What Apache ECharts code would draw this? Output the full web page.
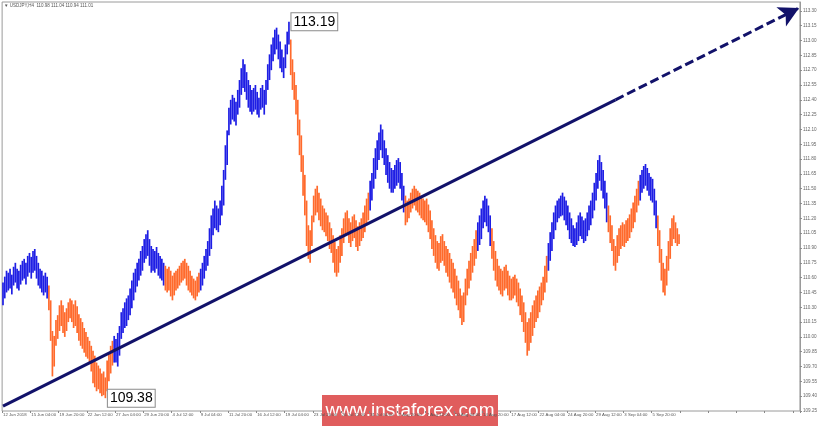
<!DOCTYPE html>
<html>
<head>
<meta charset="utf-8">
<script src="https://cdn.jsdelivr.net/npm/echarts@6/dist/echarts.min.js"></script>
<style>
html, body { margin: 0; padding: 0; background: #fff; }
#chart { width: 820px; height: 426px; }
</style>
</head>
<body>
<div id="chart"></div>
<script>
// USDJPY H4, one label every 16 bars
const tickLabels = ['12 Jun 2018', '15 Jun 04:00', '19 Jun 20:00', '22 Jun 12:00', '27 Jun 04:00', '29 Jun 20:00',
  '4 Jul 12:00', '9 Jul 04:00', '11 Jul 20:00', '16 Jul 12:00', '19 Jul 04:00', '23 Jul 20:00', '26 Jul 12:00',
  '31 Jul 04:00', '2 Aug 20:00', '7 Aug 12:00', '10 Aug 04:00', '14 Aug 20:00', '17 Aug 12:00', '22 Aug 04:00',
  '24 Aug 20:00', '29 Aug 12:00', '3 Sep 04:00', '5 Sep 20:00']

const highs = [
  110.55,110.61,110.67,110.65,110.69,110.63,110.71,110.75,110.69,110.67,110.73,110.77,110.79,110.75,110.82,110.85,
  110.81,110.87,110.89,110.82,110.75,110.69,110.67,110.62,110.65,110.61,110.52,110.37,110.06,110.01,110.17,110.22,
  110.32,110.37,110.32,110.25,110.29,110.35,110.39,110.37,110.33,110.37,110.31,110.23,110.19,110.15,110.09,110.05,
  110.00,109.96,109.91,109.86,109.81,109.74,109.71,109.68,109.63,109.65,109.59,109.76,109.84,109.91,109.96,110.01,
  109.98,110.04,110.11,110.25,110.29,110.35,110.39,110.42,110.49,110.57,110.65,110.69,110.75,110.79,110.87,110.92,
  110.99,111.04,111.08,110.99,110.92,110.89,110.87,110.91,110.85,110.82,110.79,110.75,110.72,110.69,110.71,110.67,
  110.62,110.65,110.67,110.69,110.72,110.75,110.77,110.79,110.75,110.72,110.67,110.62,110.59,110.57,110.61,110.65,
  110.69,110.75,110.82,110.89,110.97,111.10,111.23,111.30,111.38,111.33,111.30,111.38,111.53,111.69,111.94,112.09,
  112.32,112.40,112.45,112.42,112.38,112.50,112.60,112.72,112.81,112.76,112.68,112.60,112.55,112.50,112.52,112.55,
  112.48,112.42,112.52,112.55,112.50,112.60,112.76,112.86,112.96,113.03,113.11,113.13,113.06,112.99,112.91,112.83,
  112.96,113.09,113.19,113.01,112.81,112.68,112.55,112.40,112.20,112.04,111.84,111.64,111.38,111.13,111.08,111.23,
  111.43,111.50,111.53,111.46,111.40,111.33,111.30,111.26,111.23,111.16,111.10,111.03,110.96,110.89,110.92,111.03,
  111.10,111.20,111.26,111.28,111.20,111.16,111.22,111.24,111.18,111.12,111.16,111.20,111.26,111.33,111.40,111.46,
  111.58,111.66,111.81,111.91,111.99,112.07,112.15,112.10,111.99,111.91,111.84,111.77,111.71,111.69,111.74,111.79,
  111.81,111.77,111.66,111.53,111.43,111.38,111.40,111.46,111.50,111.53,111.50,111.48,111.46,111.43,111.40,111.38,
  111.40,111.34,111.28,111.18,111.10,111.03,110.97,110.95,111.02,111.04,110.97,110.92,110.89,110.85,110.79,110.75,
  110.69,110.62,110.57,110.49,110.42,110.45,110.59,110.69,110.77,110.85,110.92,110.99,111.08,111.16,111.23,111.30,
  111.38,111.43,111.40,111.33,111.23,111.10,110.97,110.87,110.79,110.72,110.69,110.67,110.71,110.73,110.67,110.62,
  110.59,110.61,110.63,110.59,110.55,110.49,110.42,110.35,110.25,110.15,110.19,110.25,110.32,110.37,110.42,110.47,
  110.51,110.55,110.61,110.72,110.82,110.95,111.06,111.16,111.26,111.33,111.38,111.40,111.43,111.46,111.42,111.38,
  111.33,111.26,111.20,111.13,111.10,111.16,111.23,111.26,111.22,111.18,111.20,111.26,111.33,111.38,111.46,111.56,
  111.66,111.79,111.84,111.77,111.69,111.58,111.46,111.33,111.23,111.13,110.99,110.92,111.03,111.10,111.13,111.16,
  111.14,111.18,111.20,111.24,111.30,111.36,111.43,111.50,111.58,111.64,111.69,111.73,111.75,111.71,111.66,111.62,
  111.60,111.50,111.38,111.23,111.08,110.89,110.75,110.69,110.82,110.97,111.10,111.20,111.23,111.16,111.10,111.04
]

const lows = [
  110.32,110.39,110.45,110.47,110.49,110.43,110.52,110.55,110.49,110.47,110.53,110.57,110.59,110.53,110.61,110.65,
  110.59,110.65,110.67,110.59,110.52,110.49,110.45,110.42,110.45,110.39,110.27,109.96,109.60,109.70,109.91,109.98,
  110.06,110.11,110.04,110.00,110.06,110.15,110.19,110.15,110.09,110.11,110.04,109.96,109.91,109.88,109.84,109.80,
  109.78,109.74,109.65,109.53,109.49,109.45,109.47,109.43,109.40,109.41,109.38,109.45,109.55,109.63,109.71,109.74,
  109.74,109.70,109.81,109.98,110.04,110.09,110.11,110.17,110.22,110.29,110.37,110.45,110.51,110.57,110.62,110.67,
  110.75,110.79,110.82,110.72,110.65,110.67,110.65,110.69,110.62,110.59,110.57,110.52,110.47,110.45,110.47,110.41,
  110.37,110.42,110.47,110.49,110.52,110.55,110.57,110.59,110.52,110.47,110.45,110.42,110.39,110.37,110.41,110.45,
  110.47,110.52,110.59,110.67,110.72,110.82,110.89,111.03,111.10,111.08,111.06,111.13,111.23,111.33,111.59,111.74,
  112.04,112.15,112.20,112.18,112.14,112.25,112.32,112.45,112.52,112.48,112.40,112.32,112.28,112.25,112.28,112.30,
  112.25,112.22,112.30,112.32,112.25,112.35,112.50,112.60,112.70,112.79,112.86,112.91,112.81,112.72,112.68,112.62,
  112.72,112.86,112.96,112.65,112.50,112.40,112.25,112.04,111.84,111.67,111.43,111.23,110.92,110.79,110.75,110.92,
  111.16,111.23,111.26,111.18,111.12,111.08,111.06,111.02,110.97,110.89,110.85,110.75,110.65,110.61,110.65,110.75,
  110.82,110.95,111.02,111.04,110.95,110.91,110.97,111.00,110.91,110.87,110.92,110.97,111.00,111.06,111.13,111.18,
  111.28,111.38,111.50,111.60,111.69,111.79,111.89,111.81,111.74,111.64,111.56,111.50,111.46,111.46,111.50,111.53,
  111.56,111.50,111.38,111.26,111.13,111.16,111.20,111.26,111.30,111.33,111.28,111.26,111.23,111.20,111.18,111.16,
  111.13,111.06,110.99,110.89,110.82,110.75,110.69,110.67,110.75,110.77,110.72,110.65,110.61,110.55,110.49,110.45,
  110.39,110.32,110.27,110.19,110.12,110.15,110.32,110.42,110.49,110.57,110.65,110.72,110.79,110.87,110.93,110.99,
  111.10,111.16,111.12,111.06,110.92,110.79,110.67,110.57,110.51,110.47,110.43,110.41,110.47,110.49,110.42,110.37,
  110.37,110.39,110.42,110.35,110.31,110.22,110.15,110.05,109.94,109.81,109.86,109.94,110.01,110.09,110.15,110.19,
  110.25,110.32,110.37,110.45,110.55,110.67,110.77,110.87,110.99,111.08,111.16,111.20,111.22,111.23,111.18,111.13,
  111.08,110.99,110.95,110.92,110.91,110.93,110.97,111.02,110.99,110.95,110.97,111.02,111.08,111.13,111.20,111.28,
  111.38,111.50,111.58,111.48,111.40,111.30,111.16,111.06,110.95,110.87,110.72,110.67,110.75,110.82,110.89,110.92,
  110.91,110.95,110.97,111.00,111.06,111.10,111.16,111.26,111.33,111.38,111.46,111.50,111.53,111.48,111.43,111.38,
  111.36,111.23,111.10,110.92,110.75,110.57,110.45,110.42,110.52,110.67,110.79,110.92,110.99,110.95,110.92,110.94
]

// wave colouring: [first bar, last bar, direction]
const waves = [
  [0, 25, 'up'], [26, 62, 'down'], [63, 91, 'up'], [92, 111, 'down'], [112, 162, 'up'],
  [163, 207, 'down'], [208, 227, 'up'], [228, 268, 'down'], [269, 276, 'up'], [277, 308, 'down'],
  [309, 342, 'up'], [343, 360, 'down'], [361, 370, 'up'], [371, 383, 'down']
]

const trendPoints = [[0, 109.30], [347, 112.40], [451, 113.33]]
const peak = [162, 113.19]
const trough = [58, 109.38]
const lastBar = [110.98, 111.04, 110.94, 111.01]
const slotCount = 452

const upColor = '#1e1ee4'
const downColor = '#ff6a2c'
const trendColor = '#12126a'

const waveColor = (i) => {
  const w = waves.find(item => i >= item[0] && i <= item[1])
  return w && w[2] === 'down' ? downColor : upColor
}

const categories = Array.from({ length: slotCount }, (_, i) => i)
const barData = highs.map((h, i) => [i, h, lows[i]])

const chart = echarts.init(document.getElementById('chart'))

const boxLabel = {
  show: true,
  position: 'right',
  distance: 2,
  color: '#000',
  fontFamily: 'Liberation Sans',
  fontSize: 14,
  backgroundColor: '#fff',
  borderColor: '#8a8a8a',
  borderWidth: 1,
  padding: [2, 2, 1, 2],
  formatter: (p) => p.data.coord[1].toFixed(2)
}

chart.setOption({
  animation: false,
  grid: { left: 1, right: 20, top: 2, bottom: 15, show: true, borderColor: '#9a9a9a', borderWidth: 1 },
  xAxis: {
    type: 'category',
    data: categories,
    boundaryGap: true,
    axisLine: { show: false },
    axisTick: { show: true, interval: 15, length: 2, lineStyle: { color: '#888' } },
    axisLabel: {
      interval: 15,
      align: 'left',
      margin: 2,
      fontSize: 4.3,
      fontFamily: 'Liberation Sans',
      color: '#555',
      formatter: (v, i) => tickLabels[i / 16] || ''
    },
    splitLine: { show: false }
  },
  yAxis: {
    type: 'value',
    position: 'right',
    min: 109.25,
    max: 113.39,
    interval: 0.15,
    axisLine: { show: true, lineStyle: { color: '#9a9a9a' } },
    axisTick: { show: true, length: 2, lineStyle: { color: '#888' } },
    axisLabel: {
      showMaxLabel: false,
      margin: 3,
      fontSize: 4.6,
      fontFamily: 'Liberation Sans',
      color: '#666',
      formatter: (v) => v.toFixed(2)
    },
    splitLine: { show: false }
  },
  graphic: [
    {
      type: 'text', left: 4, top: 3,
      style: { text: '\u25BC USDJPY,H4  ' + lastBar.map(v => v.toFixed(2)).join(' '), fontSize: 4.5, fontFamily: 'Liberation Sans', fill: '#555' }
    },
    {
      type: 'group', left: 322, top: 395,
      children: [
        { type: 'rect', shape: { x: 0, y: 0, width: 176, height: 31 }, style: { fill: '#e05d5d' } },
        { type: 'text', x: 88, y: 16, style: { text: 'www.instaforex.com', fill: '#fff', fontSize: 19, fontFamily: 'Liberation Sans', align: 'center', verticalAlign: 'middle' } }
      ]
    }
  ],
  series: [
    {
      name: 'USDJPY',
      type: 'custom',
      data: barData,
      encode: { x: 0, y: [1, 2] },
      renderItem: (params, api) => {
        const i = api.value(0)
        const top = api.coord([i, api.value(1)])
        const bottom = api.coord([i, api.value(2)])
        return {
          type: 'line',
          shape: { x1: top[0], y1: top[1], x2: top[0], y2: bottom[1] },
          style: { stroke: waveColor(i), lineWidth: 1.7 }
        }
      },
      markLine: {
        silent: true,
        animation: false,
        data: [
          [
            { coord: trendPoints[0], symbol: 'none', lineStyle: { color: trendColor, width: 3, type: 'solid' } },
            { coord: trendPoints[1], symbol: 'none' }
          ],
          [
            { coord: trendPoints[1], symbol: 'none', lineStyle: { color: trendColor, width: 3, type: [9, 4] } },
            { coord: trendPoints[2], symbol: 'arrow', symbolSize: [16, 20] }
          ],
          {
            yAxis: lastBar[3],
            symbol: 'none',
            lineStyle: { opacity: 0 },
            label: {
              show: true, position: 'end', distance: 1,
              formatter: lastBar[3].toFixed(2),
              fontSize: 4.6, fontFamily: 'Liberation Sans', color: '#fff',
              backgroundColor: '#55596a', padding: [1, 2]
            }
          }
        ],
        label: { show: false },
        itemStyle: { color: trendColor }
      },
      markPoint: {
        silent: true,
        symbol: 'circle',
        symbolSize: 1,
        itemStyle: { color: 'rgba(0,0,0,0)' },
        label: boxLabel,
        data: [{ coord: peak }, { coord: trough }]
      }
    }
  ]
})
</script>
</body>
</html>
